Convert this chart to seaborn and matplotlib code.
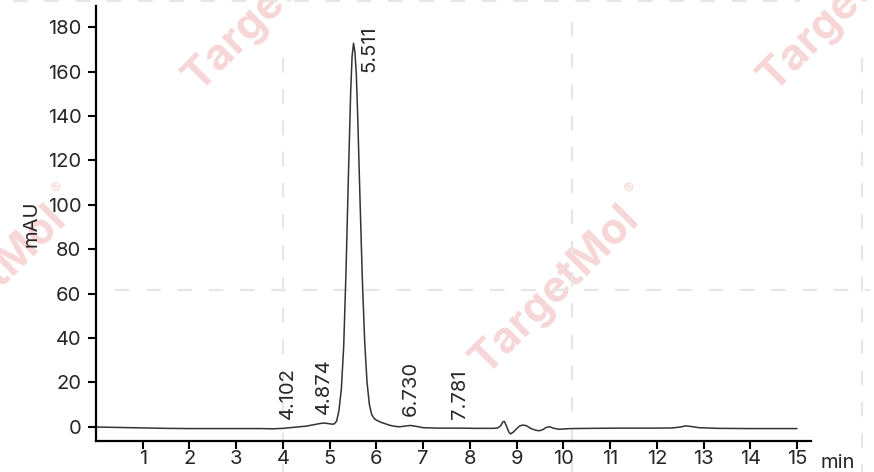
import numpy as np
import matplotlib
matplotlib.use("Agg")
import matplotlib.pyplot as plt
import seaborn as sns
from matplotlib.lines import Line2D

# chromatogram trace (min, mAU)
time_min = [0.0, 0.5, 1.0, 1.5, 2.0, 2.5, 3.0, 3.5, 3.8, 4.0, 4.1, 4.3, 4.5, 4.65,
            4.8, 4.874, 4.95, 5.05, 5.10, 5.15, 5.20, 5.25, 5.30, 5.35, 5.40, 5.45,
            5.48, 5.511, 5.54, 5.57, 5.60, 5.65, 5.70, 5.75, 5.80, 5.85, 5.90, 5.95,
            6.00, 6.10, 6.20, 6.30, 6.40, 6.50, 6.60, 6.73, 6.85, 7.00, 7.30, 7.781,
            8.10, 8.50, 8.60, 8.66, 8.71, 8.74, 8.78, 8.83, 8.87, 8.93, 9.00, 9.06,
            9.13, 9.21, 9.30, 9.40, 9.48, 9.56, 9.63, 9.71, 9.80, 9.91, 10.00, 10.16,
            10.60, 11.20, 12.00, 12.35, 12.50, 12.62, 12.75, 12.90, 13.30, 14.00, 15.00]
signal_mau = [-0.1, -0.3, -0.5, -0.7, -0.8, -0.8, -0.8, -0.8, -0.9, -0.7, -0.5, -0.1, 0.3, 0.9,
              1.5, 1.7, 1.5, 1.2, 1.3, 2.6, 7.5, 17.0, 36.0, 70.0, 112.0, 151.0,
              167.0, 172.8, 169.0, 159.0, 140.0, 102.0, 66.0, 38.0, 20.0, 10.0, 5.5, 3.8,
              3.0, 2.0, 1.3, 0.6, 0.2, 0.0, 0.3, 0.6, 0.2, -0.4, -0.6, -0.6,
              -0.7, -0.7, -0.5, 0.5, 2.3, 2.4, 0.5, -2.2, -3.2, -2.4, -0.9, 0.3,
              0.8, 0.5, -0.7, -1.5, -1.8, -1.3, -0.3, 0.0, -0.7, -1.1, -1.0, -0.8,
              -0.7, -0.6, -0.6, -0.5, -0.1, 0.4, 0.1, -0.4, -0.7, -0.8, -0.8]

peak_times = [4.102, 4.874, 5.511, 6.730, 7.781]
peak_labels = ["4.102", "4.874", "5.511", "6.730", "7.781"]

x_ticks = list(range(1, 16))
y_ticks = list(range(0, 181, 20))

W, H = 874, 472
FS = 14.5

sns.set_style("ticks")
plt.rcParams["font.family"] = ["Inter", "DejaVu Sans"]

fig = plt.figure(figsize=(W / 100, H / 100), dpi=100)
ax = fig.add_axes([96 / W, 31 / H, (811 - 96) / W, (441 - 6) / H])
ax.patch.set_alpha(0)

# watermark tiles (figure pixels, y from top)
wm_color = "#f6d6d6"
for cx, cy in [(-18, 290), (555, 290), (1128, 290), (268, 7), (843, 7)]:
    fig.text(cx / W, 1 - cy / H, "TargetMol", rotation=45, ha="center", va="center",
             fontsize=31, fontweight="bold", color=wm_color, zorder=-3)
    fig.text((cx + 76) / W, 1 - (cy - 102) / H, "®", rotation=45, ha="center",
             va="center", fontsize=11, color=wm_color, zorder=-3)

dash_kw = dict(color="#e6e6e6", lw=1.5, linestyle=(0, (7, 8)), zorder=-2)
for x0, y0, x1, y1 in [(283, 58, 283, 472), (572, 22, 572, 472), (862, 58, 862, 472),
                       (115, 290, 870, 290), (13, 1, 800, 1)]:
    fig.add_artist(Line2D([x0 / W, x1 / W], [1 - y0 / H, 1 - y1 / H],
                          transform=fig.transFigure, **dash_kw))

sns.lineplot(x=time_min, y=signal_mau, ax=ax, color="#333333", linewidth=1.1)

ax.set_xlim(0, 15.3)
ax.set_ylim(-6.4, 189.6)
ax.set_xticks(x_ticks)
ax.set_yticks(y_ticks)
ax.tick_params(axis="both", length=6, width=1.5, color="black", labelsize=FS)
ax.tick_params(axis="x", pad=0.5)
ax.tick_params(axis="y", pad=4.5)
for side in ["top", "right"]:
    ax.spines[side].set_visible(False)
for side in ["left", "bottom"]:
    ax.spines[side].set_linewidth(1.6)
    ax.spines[side].set_color("black")

ax.set_ylabel("mAU", fontsize=FS)
ax.yaxis.set_label_coords(-0.078, 0.5)
ax.set_xlabel("")
fig.text(820 / W, 4 / H, "min", fontsize=FS, ha="left", va="baseline")

top_peak = peak_times[int(np.argmax(np.interp(peak_times, time_min, signal_mau)))]
for rt, lab in zip(peak_times, peak_labels):
    y = np.interp(rt, time_min, signal_mau)
    offset = (11.5, -21) if rt == top_peak else (0, 6.5)
    ax.annotate(lab, xy=(rt, y), xytext=offset, textcoords="offset points",
                rotation=90, ha="center", va="bottom", fontsize=FS)

fig.savefig("out.png", dpi=100, facecolor="white")
